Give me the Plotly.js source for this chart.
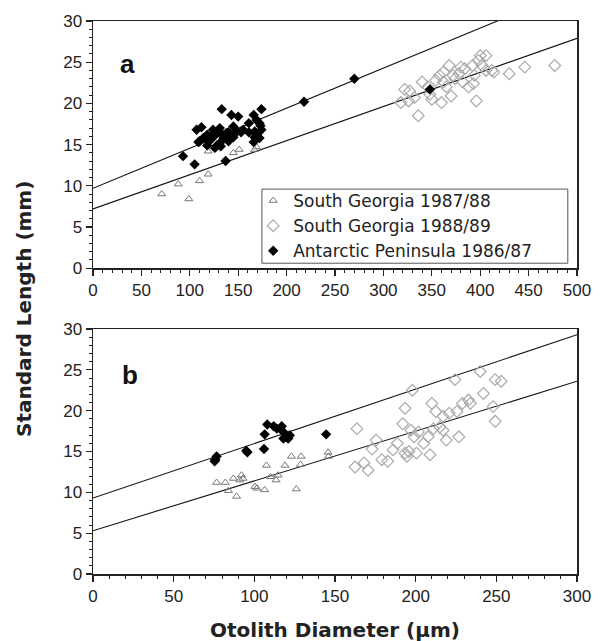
<!DOCTYPE html>
<html>
<head>
<meta charset="utf-8">
<script src="https://cdn.plot.ly/plotly-3.0.1.min.js"></script>
<style>body{margin:0;padding:0;background:#fff}#chart{width:604px;height:641px}</style>
</head>
<body>
<div id="chart"></div>
<script>
// ---- Panel a ----
const aSG8788_x = [71, 88, 99, 110, 119, 119, 145, 151, 167, 169];
const aSG8788_y = [9.0, 10.2, 8.4, 10.6, 11.4, 14.2, 14.0, 14.4, 14.4, 14.7];

const aSG8889_x = [322, 326, 318, 327, 332, 336, 340, 346, 348, 350, 358, 360, 362, 365, 368, 370, 374, 378, 382, 384, 388, 392, 394, 396, 398, 400, 406, 402, 406, 412, 414, 430, 446, 477, 380, 372, 354, 393, 362];
const aSG8889_y = [21.7, 20.3, 20.1, 21.5, 20.7, 18.5, 22.6, 22.0, 21.1, 20.5, 23.4, 20.1, 22.6, 22.0, 24.6, 20.9, 23.0, 23.6, 22.6, 24.2, 22.0, 24.6, 23.4, 20.3, 25.2, 25.8, 25.8, 24.6, 24.0, 24.0, 23.8, 23.6, 24.4, 24.6, 24.4, 23.4, 22.8, 22.4, 23.8];

const aAP8687_x = [133, 174, 143, 150, 166, 169, 172, 107, 124, 131, 138, 145, 149, 155, 161, 167, 174, 166, 172, 109, 114, 118, 123, 128, 131, 135, 140, 145, 118, 128, 93, 105, 137, 218, 270, 348, 112, 127, 153, 173, 110, 120, 126, 132, 136, 140, 167, 169, 161, 125, 130, 134, 122, 142];
const aAP8687_y = [19.3, 19.3, 18.6, 18.4, 18.6, 18.0, 17.6, 16.8, 16.8, 17.0, 16.4, 17.2, 16.6, 16.8, 17.6, 16.6, 16.8, 15.3, 15.8, 15.3, 15.8, 16.2, 15.8, 16.4, 15.2, 15.8, 15.4, 15.9, 14.9, 14.9, 13.6, 12.6, 13.0, 20.2, 23.0, 21.7, 17.1, 16.3, 16.5, 17.3, 15.4, 15.4, 14.6, 14.8, 16.1, 16.5, 15.9, 16.3, 16.5, 16.0, 16.6, 16.2, 16.0, 15.9];

// regression lines panel a: [intercept, slope]
const aLineUpper = [9.7, 0.0486];
const aLineLower = [7.2, 0.0414];

// ---- Panel b ----
const bSG8788_x = [76.6, 82, 84, 87, 89, 92, 93, 91, 100.4, 101.6, 107.5, 106.4, 110, 113.5, 119, 123, 129, 128.6, 126, 145.7, 146, 114.7];
const bSG8788_y = [11.2, 11.2, 10.2, 11.7, 9.5, 12.1, 11.7, 11.5, 10.7, 10.5, 13.3, 10.3, 11.9, 11.5, 13.3, 14.4, 14.4, 13.4, 10.4, 14.9, 14.4, 12.1];

const bSG8889_x = [163.6, 162.4, 168, 170.5, 173, 175.5, 179, 182.7, 186, 188.6, 192, 193.4, 193.4, 194.6, 195.8, 197, 198, 199, 200.5, 201.7, 205, 207.7, 208.9, 210, 211, 212.5, 215, 217, 217, 219, 220.8, 224.4, 225.6, 226.8, 229, 232.7, 233.9, 240, 242, 248, 249.3, 249.3, 253];
const bSG8889_y = [17.8, 13.1, 13.6, 12.7, 15.3, 16.4, 14.0, 13.8, 15.2, 16.0, 18.4, 20.3, 14.8, 14.4, 15.0, 17.6, 22.5, 16.8, 14.8, 17.4, 16.0, 16.8, 14.6, 20.9, 17.8, 19.9, 18.0, 19.3, 17.6, 16.4, 19.7, 23.8, 19.9, 16.8, 20.9, 21.3, 20.9, 24.8, 22.1, 20.5, 18.7, 23.8, 23.6];

const bAP8687_x = [75.8, 76.6, 75.4, 95, 95.7, 106, 106.4, 108, 112, 114, 117, 118, 119.5, 118, 122, 121, 144.5];
const bAP8687_y = [14.0, 14.4, 13.8, 15.1, 14.9, 15.3, 17.1, 18.3, 18.1, 17.8, 18.1, 17.4, 16.8, 16.6, 17.0, 16.6, 17.1];

const bLineUpper = [9.3, 0.0667];
const bLineLower = [5.3, 0.061];

const seriesNames = ["South Georgia 1987/88", "South Georgia 1988/89", "Antarctic Peninsula 1986/87"];
const xTicksA = [0, 50, 100, 150, 200, 250, 300, 350, 400, 450, 500];
const xTicksB = [0, 50, 100, 150, 200, 250, 300];
const yTicks = [0, 5, 10, 15, 20, 25, 30];

function lineTrace(coef, xmax, xa, ya) {
  const xs = [0, xmax];
  return {x: xs, y: xs.map(v => coef[0] + coef[1] * v), xaxis: xa, yaxis: ya, mode: 'lines',
          line: {color: '#111', width: 1.1}, showlegend: false, hoverinfo: 'skip'};
}

const triMarker = {symbol: 'triangle-up-open', size: 7, color: '#777', line: {width: 1, color: '#777'}};
const diaOpenMarker = {symbol: 'diamond-open', size: 9, color: '#aaa', line: {width: 1.2, color: '#aaa'}};
const diaFillMarker = {symbol: 'diamond', size: 8, color: '#000'};

const traces = [
  lineTrace(aLineUpper, 500, 'x', 'y'),
  lineTrace(aLineLower, 500, 'x', 'y'),
  {x: aSG8788_x, y: aSG8788_y, xaxis: 'x', yaxis: 'y', mode: 'markers', name: seriesNames[0], marker: triMarker, legendgroup: 'g1'},
  {x: aSG8889_x, y: aSG8889_y, xaxis: 'x', yaxis: 'y', mode: 'markers', name: seriesNames[1], marker: diaOpenMarker, legendgroup: 'g2'},
  {x: aAP8687_x, y: aAP8687_y, xaxis: 'x', yaxis: 'y', mode: 'markers', name: seriesNames[2], marker: diaFillMarker, legendgroup: 'g3'},
  lineTrace(bLineUpper, 300, 'x2', 'y2'),
  lineTrace(bLineLower, 300, 'x2', 'y2'),
  {x: bSG8788_x, y: bSG8788_y, xaxis: 'x2', yaxis: 'y2', mode: 'markers', name: seriesNames[0], marker: triMarker, showlegend: false, legendgroup: 'g1'},
  {x: bSG8889_x, y: bSG8889_y, xaxis: 'x2', yaxis: 'y2', mode: 'markers', name: seriesNames[1], marker: diaOpenMarker, showlegend: false, legendgroup: 'g2'},
  {x: bAP8687_x, y: bAP8687_y, xaxis: 'x2', yaxis: 'y2', mode: 'markers', name: seriesNames[2], marker: diaFillMarker, showlegend: false, legendgroup: 'g3'}
];

const tickFont = {family: 'Liberation Sans, Arial, sans-serif', size: 17, color: '#222'};
function xAxis(ticks, anchor) {
  return {domain: [0, 1], anchor: anchor, range: [0, ticks[ticks.length - 1]], tickvals: ticks, ticktext: ticks.map(String),
          ticks: 'outside', ticklen: 6, tickwidth: 1.2, tickcolor: '#222', showline: true, linecolor: '#222', linewidth: 1.5,
          mirror: true, showgrid: false, zeroline: false, tickfont: tickFont,
          minor: {dtick: 10, ticks: 'outside', ticklen: 3, tickcolor: '#222', tickwidth: 1, showgrid: false}};
}
function yAxis(dom, anchor) {
  return {domain: dom, anchor: anchor, range: [0, 30], tickvals: yTicks, ticktext: yTicks.map(String),
          ticks: 'outside', ticklen: 6, tickwidth: 1.2, tickcolor: '#222', showline: true, linecolor: '#222', linewidth: 1.5,
          mirror: true, showgrid: false, zeroline: false, tickfont: tickFont,
          minor: {dtick: 1, ticks: 'outside', ticklen: 3, tickcolor: '#222', tickwidth: 1, showgrid: false}};
}

const layout = {
  width: 604, height: 641,
  margin: {l: 93, r: 27, t: 21, b: 67},
  paper_bgcolor: '#fff', plot_bgcolor: '#fff',
  showlegend: true,
  xaxis: xAxis(xTicksA, 'y'),
  yaxis: yAxis([0.553, 1], 'x'),
  xaxis2: xAxis(xTicksB, 'y2'),
  yaxis2: yAxis([0, 0.443], 'x2'),
  legend: {x: 0.331, y: 0.707, xanchor: 'left', yanchor: 'top', bgcolor: 'rgba(0,0,0,0)', borderwidth: 0,
           font: {family: 'DejaVu Sans, sans-serif', size: 17, color: '#222'}, tracegroupgap: 0, itemsizing: 'trace'},
  shapes: [
    {type: 'rect', xref: 'paper', yref: 'paper', x0: 0.349, x1: 0.981, y0: 0.562, y1: 0.696,
     line: {color: '#555', width: 1}, fillcolor: 'rgba(255,255,255,1)', layer: 'below'}
  ],
  annotations: [
    {text: '<b>a</b>', xref: 'x', yref: 'y', x: 36, y: 24.8, showarrow: false, font: {family: 'Liberation Sans, Arial, sans-serif', size: 26, color: '#111'}},
    {text: '<b>b</b>', xref: 'x2', yref: 'y2', x: 23, y: 24.4, showarrow: false, font: {family: 'Liberation Sans, Arial, sans-serif', size: 26, color: '#111'}},
    {text: '<b>Standard Length (mm)</b>', xref: 'paper', yref: 'paper', x: -0.143, y: 0.479, xanchor: 'center', yanchor: 'middle', textangle: -90, showarrow: false,
     font: {family: 'DejaVu Sans, sans-serif', size: 20, color: '#222'}},
    {text: '<b>Otolith Diameter (µm)</b>', xref: 'paper', yref: 'paper', x: 0.5, y: -0.101, xanchor: 'center', yanchor: 'middle', showarrow: false,
     font: {family: 'DejaVu Sans, sans-serif', size: 20, color: '#222'}}
  ]
};

Plotly.newPlot('chart', traces, layout, {staticPlot: true, displayModeBar: false});
</script>
</body>
</html>
